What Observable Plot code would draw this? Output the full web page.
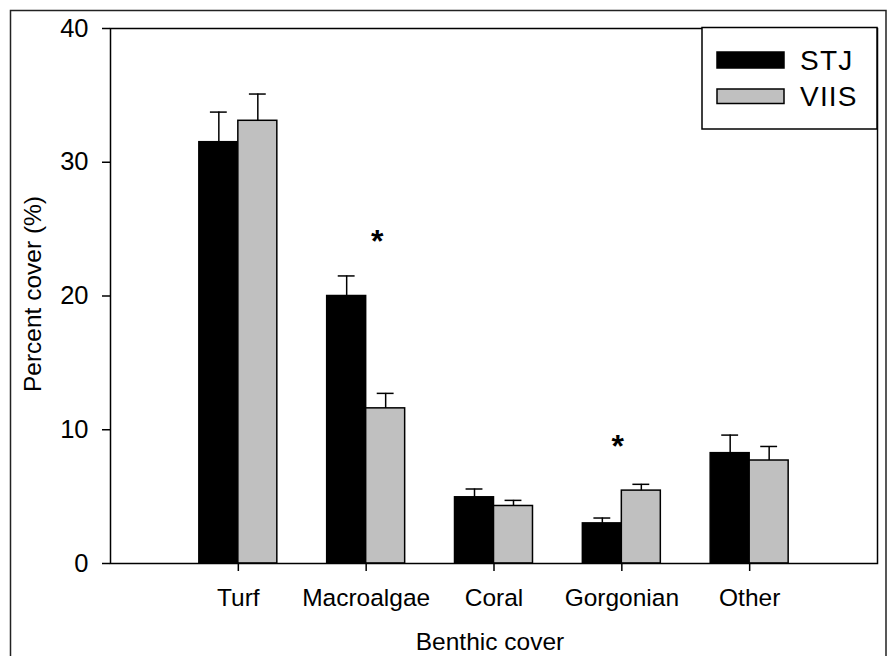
<!DOCTYPE html>
<html>
<head>
<meta charset="utf-8">
<script src="https://cdn.jsdelivr.net/npm/d3@7"></script>
<script src="https://cdn.jsdelivr.net/npm/@observablehq/plot@0.6"></script>
<style>
  html, body { margin: 0; padding: 0; background: #fff; }
  #chart { width: 890px; height: 656px; overflow: hidden; }
</style>
</head>
<body>
<div id="chart"></div>
<script>
const categories = ["Turf", "Macroalgae", "Coral", "Gorgonian", "Other"];
const sites = ["STJ", "VIIS"];
const siteColors = ["#000000", "#c0c0c0"];
const stjMean = [31.5, 20.0, 4.95, 3.0, 8.25];
const stjSE   = [2.25, 1.5, 0.62, 0.4, 1.35];
const viisMean = [33.1, 11.6, 4.3, 5.45, 7.7];
const viisSE   = [2.0, 1.12, 0.42, 0.47, 1.05];
const yTicks = [0, 10, 20, 30, 40];
const sigCategories = ["Macroalgae", "Gorgonian"];
const sigY = [24.4, 9.1];

const barW = 0.305, capHalf = 0.066;
const rows = categories.flatMap((c, i) => [
  {cat: c, site: "STJ", mean: stjMean[i], se: stjSE[i], x1: i + 1 - barW, x2: i + 1},
  {cat: c, site: "VIIS", mean: viisMean[i], se: viisSE[i], x1: i + 1, x2: i + 1 + barW}
]).map(d => ({...d, xc: (d.x1 + d.x2) / 2, top: d.mean + d.se}));
const sig = sigCategories.map((c, i) => ({idx: categories.indexOf(c) + 1, y: sigY[i]}));

const font = "'Liberation Sans', Arial, Helvetica, sans-serif";

const chart = Plot.plot({
  width: 890,
  height: 656,
  marginLeft: 110,
  marginRight: 13,
  marginTop: 28,
  marginBottom: 93,
  style: {fontFamily: font, fontSize: "24px", color: "#000", background: "#fff", overflow: "visible"},
  x: {domain: [0, 6]},
  y: {domain: [0, 40]},
  color: {domain: sites, range: siteColors},
  marks: [
    Plot.rectY(rows, {x1: "x1", x2: "x2", y1: 0, y2: "mean", fill: "site", stroke: "#000", strokeWidth: 1.5}),
    Plot.ruleX(rows, {x: "xc", y1: "mean", y2: "top", stroke: "#000", strokeWidth: 1.5}),
    Plot.ruleY(rows, {y: "top", x1: d => d.xc - capHalf, x2: d => d.xc + capHalf, stroke: "#000", strokeWidth: 1.5}),
    Plot.text(sig.slice(0, 1), {x: "idx", y: "y", text: () => "*", fontSize: 32, fontWeight: "bold", lineAnchor: "bottom", dx: 11, dy: 15}),
    Plot.text(sig.slice(1, 2), {x: "idx", y: "y", text: () => "*", fontSize: 32, fontWeight: "bold", lineAnchor: "bottom", dx: -4, dy: 15}),
    Plot.frame({stroke: "#000", strokeWidth: 1.5}),
    Plot.axisY({ticks: yTicks, tickSize: 8, tickPadding: 14, fontSize: 25.5, label: null, strokeWidth: 1.5}),
    Plot.axisX({ticks: categories.map((c, i) => i + 1), tickFormat: v => categories[v - 1], tickSize: 8, tickPadding: 17, fontSize: 24.5, label: null, strokeWidth: 1.5}),
    Plot.text(["Benthic cover"], {frameAnchor: "bottom", text: d => d, fontSize: 24.5, textAnchor: "middle", lineAnchor: "bottom", dy: 86, dx: -4}),
    Plot.text(["Percent cover (%)"], {frameAnchor: "left", text: d => d, fontSize: 24.5, textAnchor: "middle", rotate: -90, lineAnchor: "bottom", dx: -70, dy: -2})
  ]
});

// Outer figure border and legend box (non-data decorations)
const svg = d3.select(chart);
svg.append("path")
  .attr("d", "M10.5,660 V10.5 H886 V660")
  .attr("fill", "none").attr("stroke", "#222").attr("stroke-width", 1.5);
const lg = svg.append("g").attr("font-family", font).attr("text-anchor", "start");
lg.append("rect").attr("x", 702).attr("y", 27.5).attr("width", 175).attr("height", 101.5)
  .attr("fill", "#fff").attr("stroke", "#000").attr("stroke-width", 1.5);
const legendY = [52, 89];
sites.forEach((s, i) => {
  lg.append("rect").attr("x", 717).attr("y", legendY[i]).attr("width", 67).attr("height", i === 0 ? 16 : 14.5)
    .attr("fill", siteColors[i]).attr("stroke", "#000").attr("stroke-width", 1.5);
  lg.append("text").attr("x", 800).attr("y", legendY[i] + 17.5 + (i === 1 ? -1 : 0))
    .attr("text-anchor", "start")
    .attr("font-size", 28).attr("letter-spacing", 1.2).attr("fill", "#000").text(s);
});

document.getElementById("chart").appendChild(chart);
</script>
</body>
</html>
